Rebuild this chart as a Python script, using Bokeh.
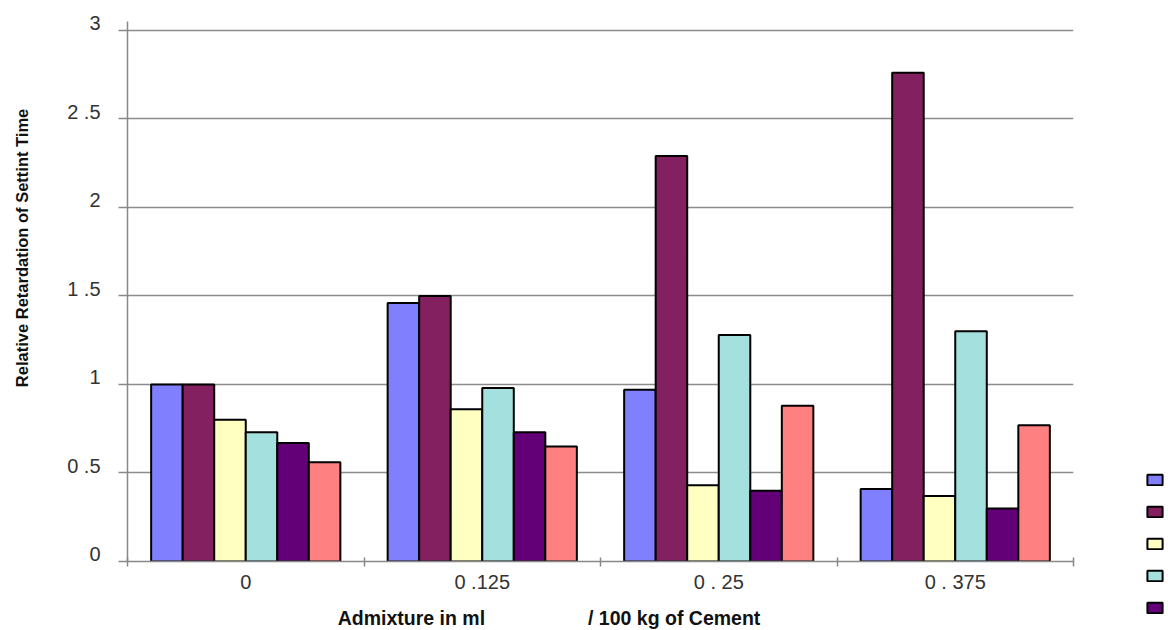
import numpy as np
from bokeh.plotting import figure
from bokeh.models import (ColumnDataSource, Range1d, FixedTicker, Legend,
                          LegendItem, LinearAxis)
from bokeh.embed import file_html
from bokeh.resources import INLINE

categories = ["0", "0 .125", "0 . 25", "0 . 375"]
series1 = [1.00, 1.46, 0.97, 0.41]
series2 = [1.00, 1.50, 2.29, 2.76]
series3 = [0.80, 0.86, 0.43, 0.37]
series4 = [0.73, 0.98, 1.28, 1.30]
series5 = [0.67, 0.73, 0.40, 0.30]
series6 = [0.56, 0.65, 0.88, 0.77]
y_ticks = [0, 0.5, 1, 1.5, 2, 2.5, 3]
y_tick_labels = ["0", "0 .5", "1", "1 .5", "2", "2 .5", "3"]
colors = ["#8080FF", "#822060", "#FFFFC2", "#A3E0DE", "#630078", "#FF8080"]
NB = "\u00a0"
x_title = "Admixture in ml" + NB * 19 + "/ 100 kg of Cement" + NB * 19
y_title = NB * 19 + "Relative Retardation of Settint Time"

series = [series1, series2, series3, series4, series5, series6]
n_cat = len(categories)
n_ser = len(series)
centers = np.arange(n_cat) + 0.5
bar_w = 0.8 / n_ser
FONT = "Liberation Sans"

p = figure(width=1168, height=630, frame_width=946, frame_height=540,
           output_backend="svg", toolbar_location=None,
           x_range=Range1d(0, n_cat), y_range=Range1d(0, 3.05),
           min_border_left=127, min_border_right=95, min_border_top=21,
           min_border_bottom=69)
p.outline_line_color = None

renderers = []
for k, vals in enumerate(series):
    src = ColumnDataSource(dict(x=centers + (k - (n_ser - 1) / 2) * bar_w, top=vals))
    r = p.vbar(x="x", top="top", bottom=0, width=bar_w, source=src,
               fill_color=colors[k], line_color="black", line_width=2)
    renderers.append(r)

# x axis: labels at category centres, tick marks at category boundaries
xa = p.xaxis[0]
xa.ticker = FixedTicker(ticks=list(centers), minor_ticks=list(range(n_cat + 1)))
xa.major_label_overrides = {float(c): lab for c, lab in zip(centers, categories)}
xa.major_tick_line_color = None
xa.major_tick_out = 5
xa.minor_tick_in = 4
xa.minor_tick_out = 5
xa.minor_tick_line_color = "#888888"
xa.minor_tick_line_width = 1.5
xa.axis_line_color = "#888888"
xa.axis_line_width = 1.5
xa.major_label_standoff = 4
xa.major_label_text_font = FONT
xa.major_label_text_font_size = "20px"
xa.major_label_text_color = "#333333"
xa.axis_label = x_title
xa.axis_label_standoff = 11
xa.axis_label_text_font = FONT
xa.axis_label_text_font_style = "bold"
xa.axis_label_text_font_size = "19.5px"
xa.axis_label_text_color = "#111111"

# y axis (line and tick marks only)
ya = p.yaxis[0]
ya.ticker = FixedTicker(ticks=y_ticks)
ya.major_label_overrides = {float(t): "" for t in y_ticks}
ya.major_tick_out = 9
ya.major_tick_in = 0
ya.major_tick_line_color = "#888888"
ya.major_tick_line_width = 1.5
ya.minor_tick_line_color = None
ya.axis_line_color = "#888888"
ya.axis_line_width = 1.5
ya.major_label_standoff = 0

# y tick labels (drawn slightly above their grid lines as in the source) + title
label_lift = 0.04
ylab = LinearAxis(ticker=FixedTicker(ticks=[t + label_lift for t in y_ticks]),
                  major_label_overrides={float(t + label_lift): lab
                                         for t, lab in zip(y_ticks, y_tick_labels)},
                  axis_line_color=None, major_tick_line_color=None,
                  minor_tick_line_color=None, major_tick_in=0, major_tick_out=0,
                  major_label_standoff=18, major_label_text_font=FONT,
                  major_label_text_font_size="20px",
                  major_label_text_color="#333333",
                  axis_label=y_title, axis_label_standoff=33,
                  axis_label_text_font=FONT, axis_label_text_font_style="bold",
                  axis_label_text_font_size="16.5px",
                  axis_label_text_color="#111111")
p.add_layout(ylab, "left")

p.xgrid.grid_line_color = None
p.ygrid.ticker = FixedTicker(ticks=y_ticks)
p.ygrid.grid_line_color = "#8C8C8C"
p.ygrid.grid_line_width = 1.5

# legend swatches (their labels lie outside the visible area of the source)
legend = Legend(items=[LegendItem(label=" ", renderers=[r]) for r in renderers],
                location=(72, -85), glyph_width=19, glyph_height=13,
                label_height=13, spacing=19, padding=0, label_width=0,
                label_standoff=0, border_line_color=None,
                background_fill_alpha=0, label_text_font_size="10px")
p.add_layout(legend, "right")

open("out.html", "w").write(file_html(p, INLINE))
